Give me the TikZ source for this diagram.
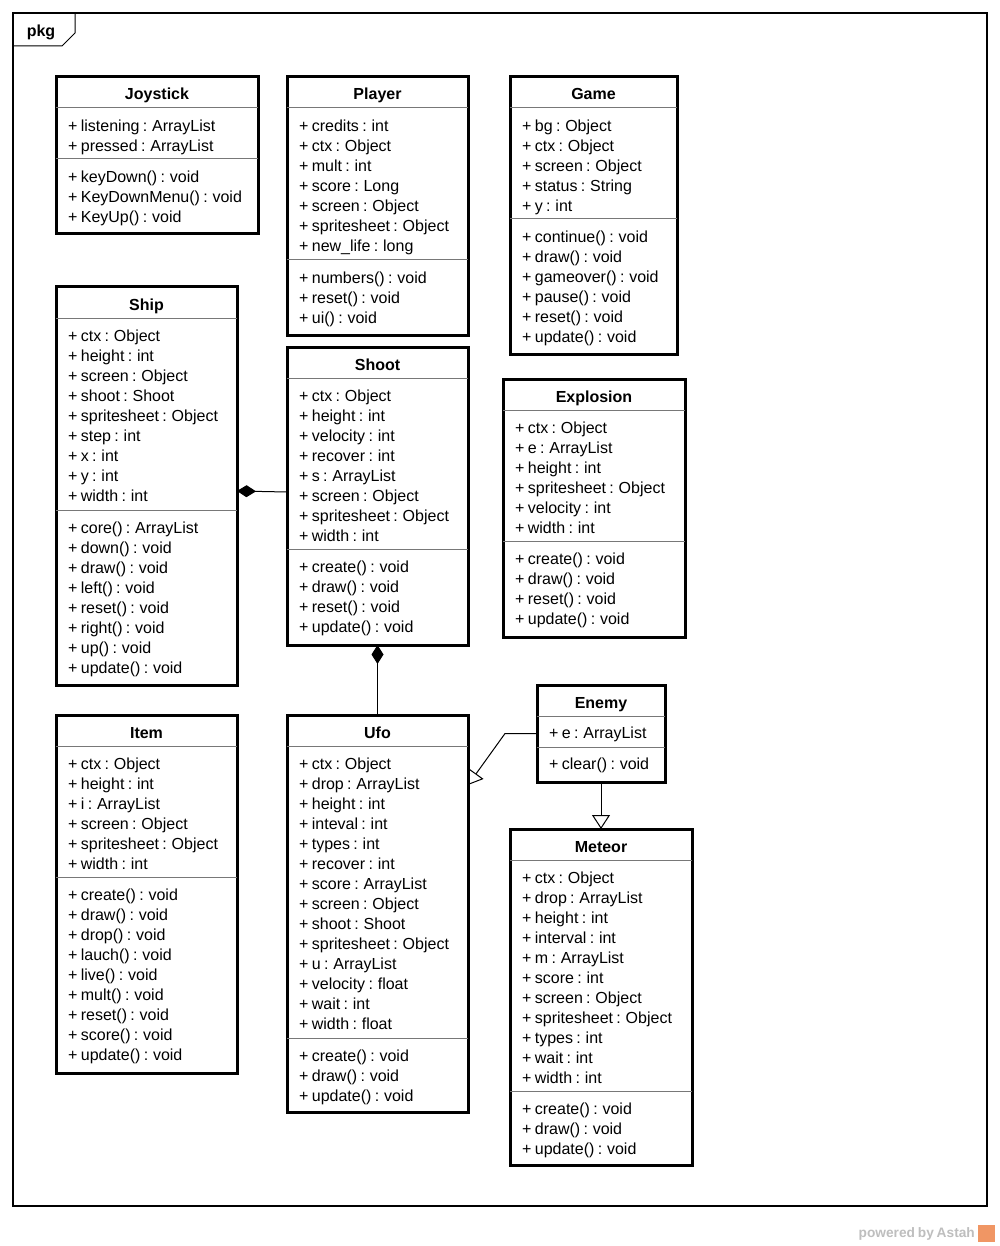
\documentclass[tikz,border=0pt]{standalone}
\usepackage{fontspec}
\setmainfont[WordSpace=0.75]{Liberation Sans}
\usepackage{tikz}
\usetikzlibrary{arrows.meta,calc,positioning}
\definecolor{poweredgray}{RGB}{190,190,190}
\definecolor{astahorange}{RGB}{240,150,100}
\definecolor{divgray}{RGB}{120,120,120}

\begin{document}
\begin{tikzpicture}[x=1pt,y=-1pt,font=\fontsize{16}{20}\selectfont,
		classbox/.style={draw,line width=3pt,anchor=north west,inner sep=0pt,outer sep=0pt,fill=white},
		classtitle/.style={anchor=base,inner sep=0pt,font=\fontsize{16}{20}\selectfont\bfseries},
		member/.style={anchor=base west,inner sep=0pt},
		divider/.style={line width=1pt,draw=divgray},
		compose/.style={line width=1pt,-{Diamond[length=19pt,width=12pt]}},
		inherit/.style={line width=1pt,-{Triangle[open,length=14pt,width=18pt]}}]
		\fill[white] (0,0) rectangle (1000,1246);
		\useasboundingbox (0,0) rectangle (1000,1246);
%		\draw[help lines] (0,0) grid[step=50] (1000,1246);

		% package frame
		\draw[line width=1.2pt] (13,13) rectangle (987,1206);
		\draw[line width=1pt] (13,46) -- (62,46) -- (75,33) -- (75,13);
		\node[classtitle] (pkg) at (41,37) {pkg};

		% Joystick
		\node[classbox,minimum width=202pt,minimum height=157pt] (joystick) at (56,77) {};
		\node[classtitle] (joystick-t) at (157,100) {Joystick};
		\draw[divider] (56,108) -- (258,108);
		\draw[divider] (56,159) -- (258,159);
		\foreach \m [count=\i from 0] in {+ listening : ArrayList, + pressed : ArrayList}
			\node[member] (joystick-a\i) at (68,{131.5+20*\i}) {\m};
		\foreach \m [count=\i from 0] in {+ keyDown() : void, + KeyDownMenu() : void, + KeyUp() : void}
			\node[member] (joystick-m\i) at (68,{182.5+20*\i}) {\m};

		% Player
		\node[classbox,minimum width=181pt,minimum height=258pt] (player) at (287,77) {};
		\node[classtitle] (player-t) at (377.5,100) {Player};
		\draw[divider] (287,108) -- (468,108);
		\draw[divider] (287,260) -- (468,260);
		\foreach \m [count=\i from 0] in {+ credits : int, + ctx : Object, + mult : int, + score : Long, + screen : Object, + spritesheet : Object, + new\_life : long}
			\node[member] (player-a\i) at (299,{131.5+20*\i}) {\m};
		\foreach \m [count=\i from 0] in {+ numbers() : void, + reset() : void, + ui() : void}
			\node[member] (player-m\i) at (299,{283.5+20*\i}) {\m};

		% Game
		\node[classbox,minimum width=167pt,minimum height=277pt] (game) at (510,77) {};
		\node[classtitle] (game-t) at (593.5,100) {Game};
		\draw[divider] (510,108) -- (677,108);
		\draw[divider] (510,219) -- (677,219);
		\foreach \m [count=\i from 0] in {+ bg : Object, + ctx : Object, + screen : Object, + status : String, + y : int}
			\node[member] (game-a\i) at (522,{131.5+20*\i}) {\m};
		\foreach \m [count=\i from 0] in {+ continue() : void, + draw() : void, + gameover() : void, + pause() : void, + reset() : void, + update() : void}
			\node[member] (game-m\i) at (522,{242.5+20*\i}) {\m};

		% Ship
		\node[classbox,minimum width=181pt,minimum height=398pt] (ship) at (56,287) {};
		\node[classtitle] (ship-t) at (146.5,310) {Ship};
		\draw[divider] (56,318) -- (237,318);
		\draw[divider] (56,510) -- (237,510);
		\foreach \m [count=\i from 0] in {+ ctx : Object, + height : int, + screen : Object, + shoot : Shoot, + spritesheet : Object, + step : int, + x : int, + y : int, + width : int}
			\node[member] (ship-a\i) at (68,{341.5+20*\i}) {\m};
		\foreach \m [count=\i from 0] in {+ core() : ArrayList, + down() : void, + draw() : void, + left() : void, + reset() : void, + right() : void, + up() : void, + update() : void}
			\node[member] (ship-m\i) at (68,{533.5+20*\i}) {\m};

		% Shoot
		\node[classbox,minimum width=181pt,minimum height=298pt] (shoot) at (287,347) {};
		\node[classtitle] (shoot-t) at (377.5,370) {Shoot};
		\draw[divider] (287,378) -- (468,378);
		\draw[divider] (287,549) -- (468,549);
		\foreach \m [count=\i from 0] in {+ ctx : Object, + height : int, + velocity : int, + recover : int, + s : ArrayList, + screen : Object, + spritesheet : Object, + width : int}
			\node[member] (shoot-a\i) at (299,{401.5+20*\i}) {\m};
		\foreach \m [count=\i from 0] in {+ create() : void, + draw() : void, + reset() : void, + update() : void}
			\node[member] (shoot-m\i) at (299,{572.5+20*\i}) {\m};

		% Explosion
		\node[classbox,minimum width=182pt,minimum height=258pt] (explosion) at (503,379) {};
		\node[classtitle] (explosion-t) at (594,402) {Explosion};
		\draw[divider] (503,410) -- (685,410);
		\draw[divider] (503,541) -- (685,541);
		\foreach \m [count=\i from 0] in {+ ctx : Object, + e : ArrayList, + height : int, + spritesheet : Object, + velocity : int, + width : int}
			\node[member] (explosion-a\i) at (515,{433.5+20*\i}) {\m};
		\foreach \m [count=\i from 0] in {+ create() : void, + draw() : void, + reset() : void, + update() : void}
			\node[member] (explosion-m\i) at (515,{564.5+20*\i}) {\m};

		% Item
		\node[classbox,minimum width=181pt,minimum height=358pt] (item) at (56,715) {};
		\node[classtitle] (item-t) at (146.5,738) {Item};
		\draw[divider] (56,746) -- (237,746);
		\draw[divider] (56,877) -- (237,877);
		\foreach \m [count=\i from 0] in {+ ctx : Object, + height : int, + i : ArrayList, + screen : Object, + spritesheet : Object, + width : int}
			\node[member] (item-a\i) at (68,{769.5+20*\i}) {\m};
		\foreach \m [count=\i from 0] in {+ create() : void, + draw() : void, + drop() : void, + lauch() : void, + live() : void, + mult() : void, + reset() : void, + score() : void, + update() : void}
			\node[member] (item-m\i) at (68,{900.5+20*\i}) {\m};

		% Ufo
		\node[classbox,minimum width=181pt,minimum height=397pt] (ufo) at (287,715) {};
		\node[classtitle] (ufo-t) at (377.5,738) {Ufo};
		\draw[divider] (287,746) -- (468,746);
		\draw[divider] (287,1038) -- (468,1038);
		\foreach \m [count=\i from 0] in {+ ctx : Object, + drop : ArrayList, + height : int, + inteval : int, + types : int, + recover : int, + score : ArrayList, + screen : Object, + shoot : Shoot, + spritesheet : Object, + u : ArrayList, + velocity : float, + wait : int, + width : float}
			\node[member] (ufo-a\i) at (299,{769.5+20*\i}) {\m};
		\foreach \m [count=\i from 0] in {+ create() : void, + draw() : void, + update() : void}
			\node[member] (ufo-m\i) at (299,{1061.5+20*\i}) {\m};

		% Enemy
		\node[classbox,minimum width=128pt,minimum height=97pt] (enemy) at (537,685) {};
		\node[classtitle] (enemy-t) at (601,708) {Enemy};
		\draw[divider] (537,716) -- (665,716);
		\draw[divider] (537,747) -- (665,747);
		\node[member] (enemy-a0) at (549,738.5) {+ e : ArrayList};
		\node[member] (enemy-m0) at (549,769) {+ clear() : void};

		% Meteor
		\node[classbox,minimum width=182pt,minimum height=336pt] (meteor) at (510,829) {};
		\node[classtitle] (meteor-t) at (601,852) {Meteor};
		\draw[divider] (510,860) -- (692,860);
		\draw[divider] (510,1091) -- (692,1091);
		\foreach \m [count=\i from 0] in {+ ctx : Object, + drop : ArrayList, + height : int, + interval : int, + m : ArrayList, + score : int, + screen : Object, + spritesheet : Object, + types : int, + wait : int, + width : int}
			\node[member] (meteor-a\i) at (522,{883.5+20*\i}) {\m};
		\foreach \m [count=\i from 0] in {+ create() : void, + draw() : void, + update() : void}
			\node[member] (meteor-m\i) at (522,{1114.5+20*\i}) {\m};

		% relations
		\draw[compose] ([yshift=4pt]shoot.west) -- ([yshift=-5pt]ship.east);
		\draw[compose] (ufo.north) -- (shoot.south);
		\draw[inherit] (enemy.west) -- ++(-32,0) coordinate (enemybend) -- ($(ufo.north east)+(0,70)$);
		\draw[inherit] (enemy.south) -- (meteor.north);

		% footer
		\node[anchor=base east,inner sep=0pt,text=poweredgray,font=\fontsize{13.7}{14}\selectfont\bfseries] (powered) at (975,1237) {powered by Astah};
		\node[fill=astahorange,minimum size=17pt,inner sep=0pt,right=3pt of powered] (astahlogo) {};
	\end{tikzpicture}
\end{document}
